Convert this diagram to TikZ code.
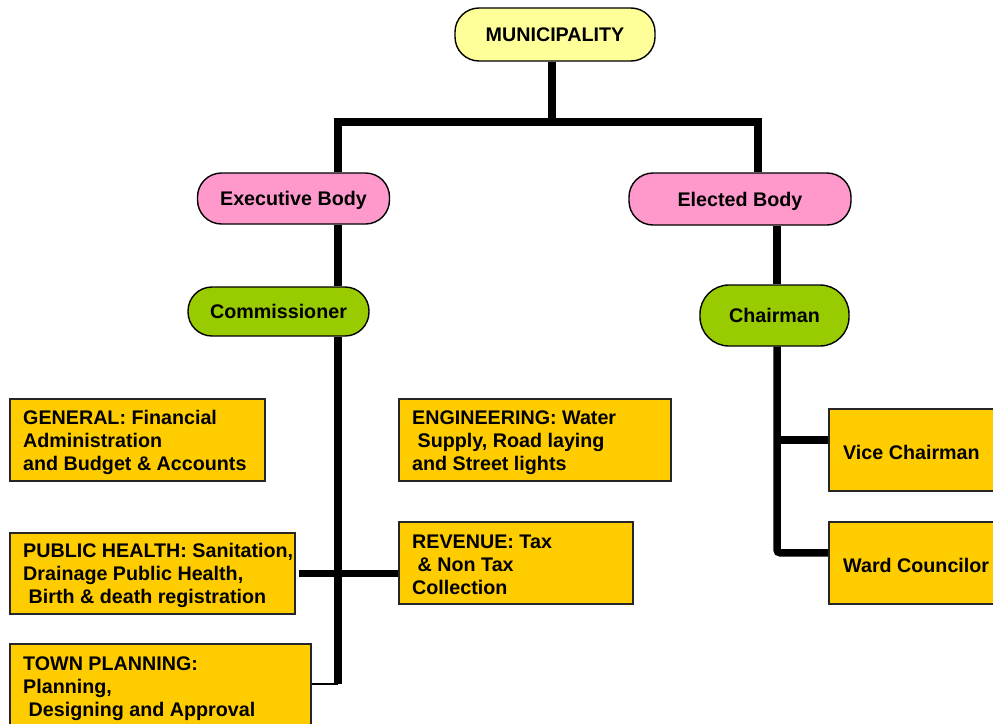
\documentclass[tikz,border=0pt]{standalone}
\usepackage{fontspec}
\setmainfont{Liberation Sans}
\definecolor{deptfill}{HTML}{FFCC00}
\definecolor{munfill}{HTML}{FFFF99}
\definecolor{bodyfill}{HTML}{FF99CC}
\definecolor{headfill}{HTML}{99CC00}
\begin{document}
\begin{tikzpicture}[x=1pt,y=-1pt,
  font=\fontsize{19.7}{23}\selectfont\bfseries,
  pill/.style={rectangle, rounded corners=24pt, draw=black, line width=1.4pt, inner sep=0pt, text height=14pt, text depth=0pt},
  dept/.style={rectangle, draw=black!85, line width=1.6pt, fill=deptfill, anchor=north west, inner sep=0pt},
  depttext/.style={anchor=west, align=left, inner sep=0pt, yshift=-2.5pt},
  conn/.style={line width=7.5pt},
  thinconn/.style={line width=1.5pt}]
\useasboundingbox (0,0) rectangle (993,723);
\clip (0,0) rectangle (993,723);

% rounded nodes
\node[pill, fill=munfill, minimum width=200pt, minimum height=53pt] (mun) at (555,34.5) {MUNICIPALITY};
\node[pill, fill=bodyfill, minimum width=192pt, minimum height=51pt] (exec) at (293.5,198.5) {Executive Body};
\node[pill, fill=bodyfill, minimum width=222pt, minimum height=52pt] (elec) at (740,199) {Elected Body};
\node[pill, fill=headfill, minimum width=181pt, minimum height=49pt] (comm) at (278.5,311.5) {Commissioner};
\node[pill, fill=headfill, minimum width=149pt, minimum height=61pt, rounded corners=29pt] (chair) at (774.5,315.5) {Chairman};

% department boxes
\node[dept, minimum width=255pt, minimum height=82pt] (gen) at (9,398) {};
\node[depttext] (gent) at ([xshift=14pt]gen.west) {GENERAL: Financial\\Administration\\and Budget \& Accounts};

\node[dept, minimum width=272pt, minimum height=82pt] (eng) at (398,398) {};
\node[depttext] (engt) at ([xshift=14pt]eng.west) {ENGINEERING: Water\\\hspace*{5.5pt}Supply, Road laying\\and Street lights};

\node[dept, minimum width=285pt, minimum height=81pt] (ph) at (9,532) {};
\node[depttext] (pht) at ([xshift=14pt]ph.west) {PUBLIC HEALTH: Sanitation,\\Drainage Public Health,\\\hspace*{5.5pt}Birth \& death registration};

\node[dept, minimum width=234pt, minimum height=82pt] (rev) at (398,521) {};
\node[depttext] (revt) at ([xshift=14pt]rev.west) {REVENUE: Tax\\\hspace*{5.5pt}\& Non Tax\\Collection};

\node[dept, minimum width=301pt, minimum height=84pt] (town) at (9,643) {};
\node[depttext] (townt) at ([xshift=14pt]town.west) {TOWN PLANNING:\\Planning,\\\hspace*{5.5pt}Designing and Approval};

\node[dept, minimum width=200pt, minimum height=82pt] (vice) at (828,408) {};
\node[depttext] (vicet) at ([xshift=15pt]vice.west) {Vice Chairman};

\node[dept, minimum width=200pt, minimum height=82pt] (ward) at (828,521) {};
\node[depttext] (wardt) at ([xshift=15pt]ward.west) {Ward Councilor};

% connectors
\coordinate (trunk) at (552,122);
\coordinate (barL) at (338,122);
\coordinate (barR) at (758,122);
\coordinate (spine) at (338,684);
\coordinate (rspine) at (777,0);
\coordinate (phj) at ([xshift=3pt]ph.east);
\coordinate (vj) at ([yshift=10pt]vice.west);
\coordinate (wj) at ([yshift=10pt]ward.west);

\draw[conn] (trunk |- mun.south) -- (trunk);
\draw[conn] (barL |- exec.north) -- (barL) -- (barR) -- (barR |- elec.north);
\draw[conn] (barL |- exec.south) -- (barL |- comm.north);
\draw[conn] (spine |- comm.south) -- (spine);
\draw[thinconn] (spine) -- (town.east |- spine);
\draw[conn] (phj) -- (phj -| rev.west);
\draw[conn] (rspine |- elec.south) -- (rspine |- chair.north);
\draw[conn, rounded corners=3pt] (rspine |- chair.south) -- (rspine |- wj) -- (wj);
\draw[conn] (rspine |- vj) -- (vj);
\end{tikzpicture}
\end{document}
